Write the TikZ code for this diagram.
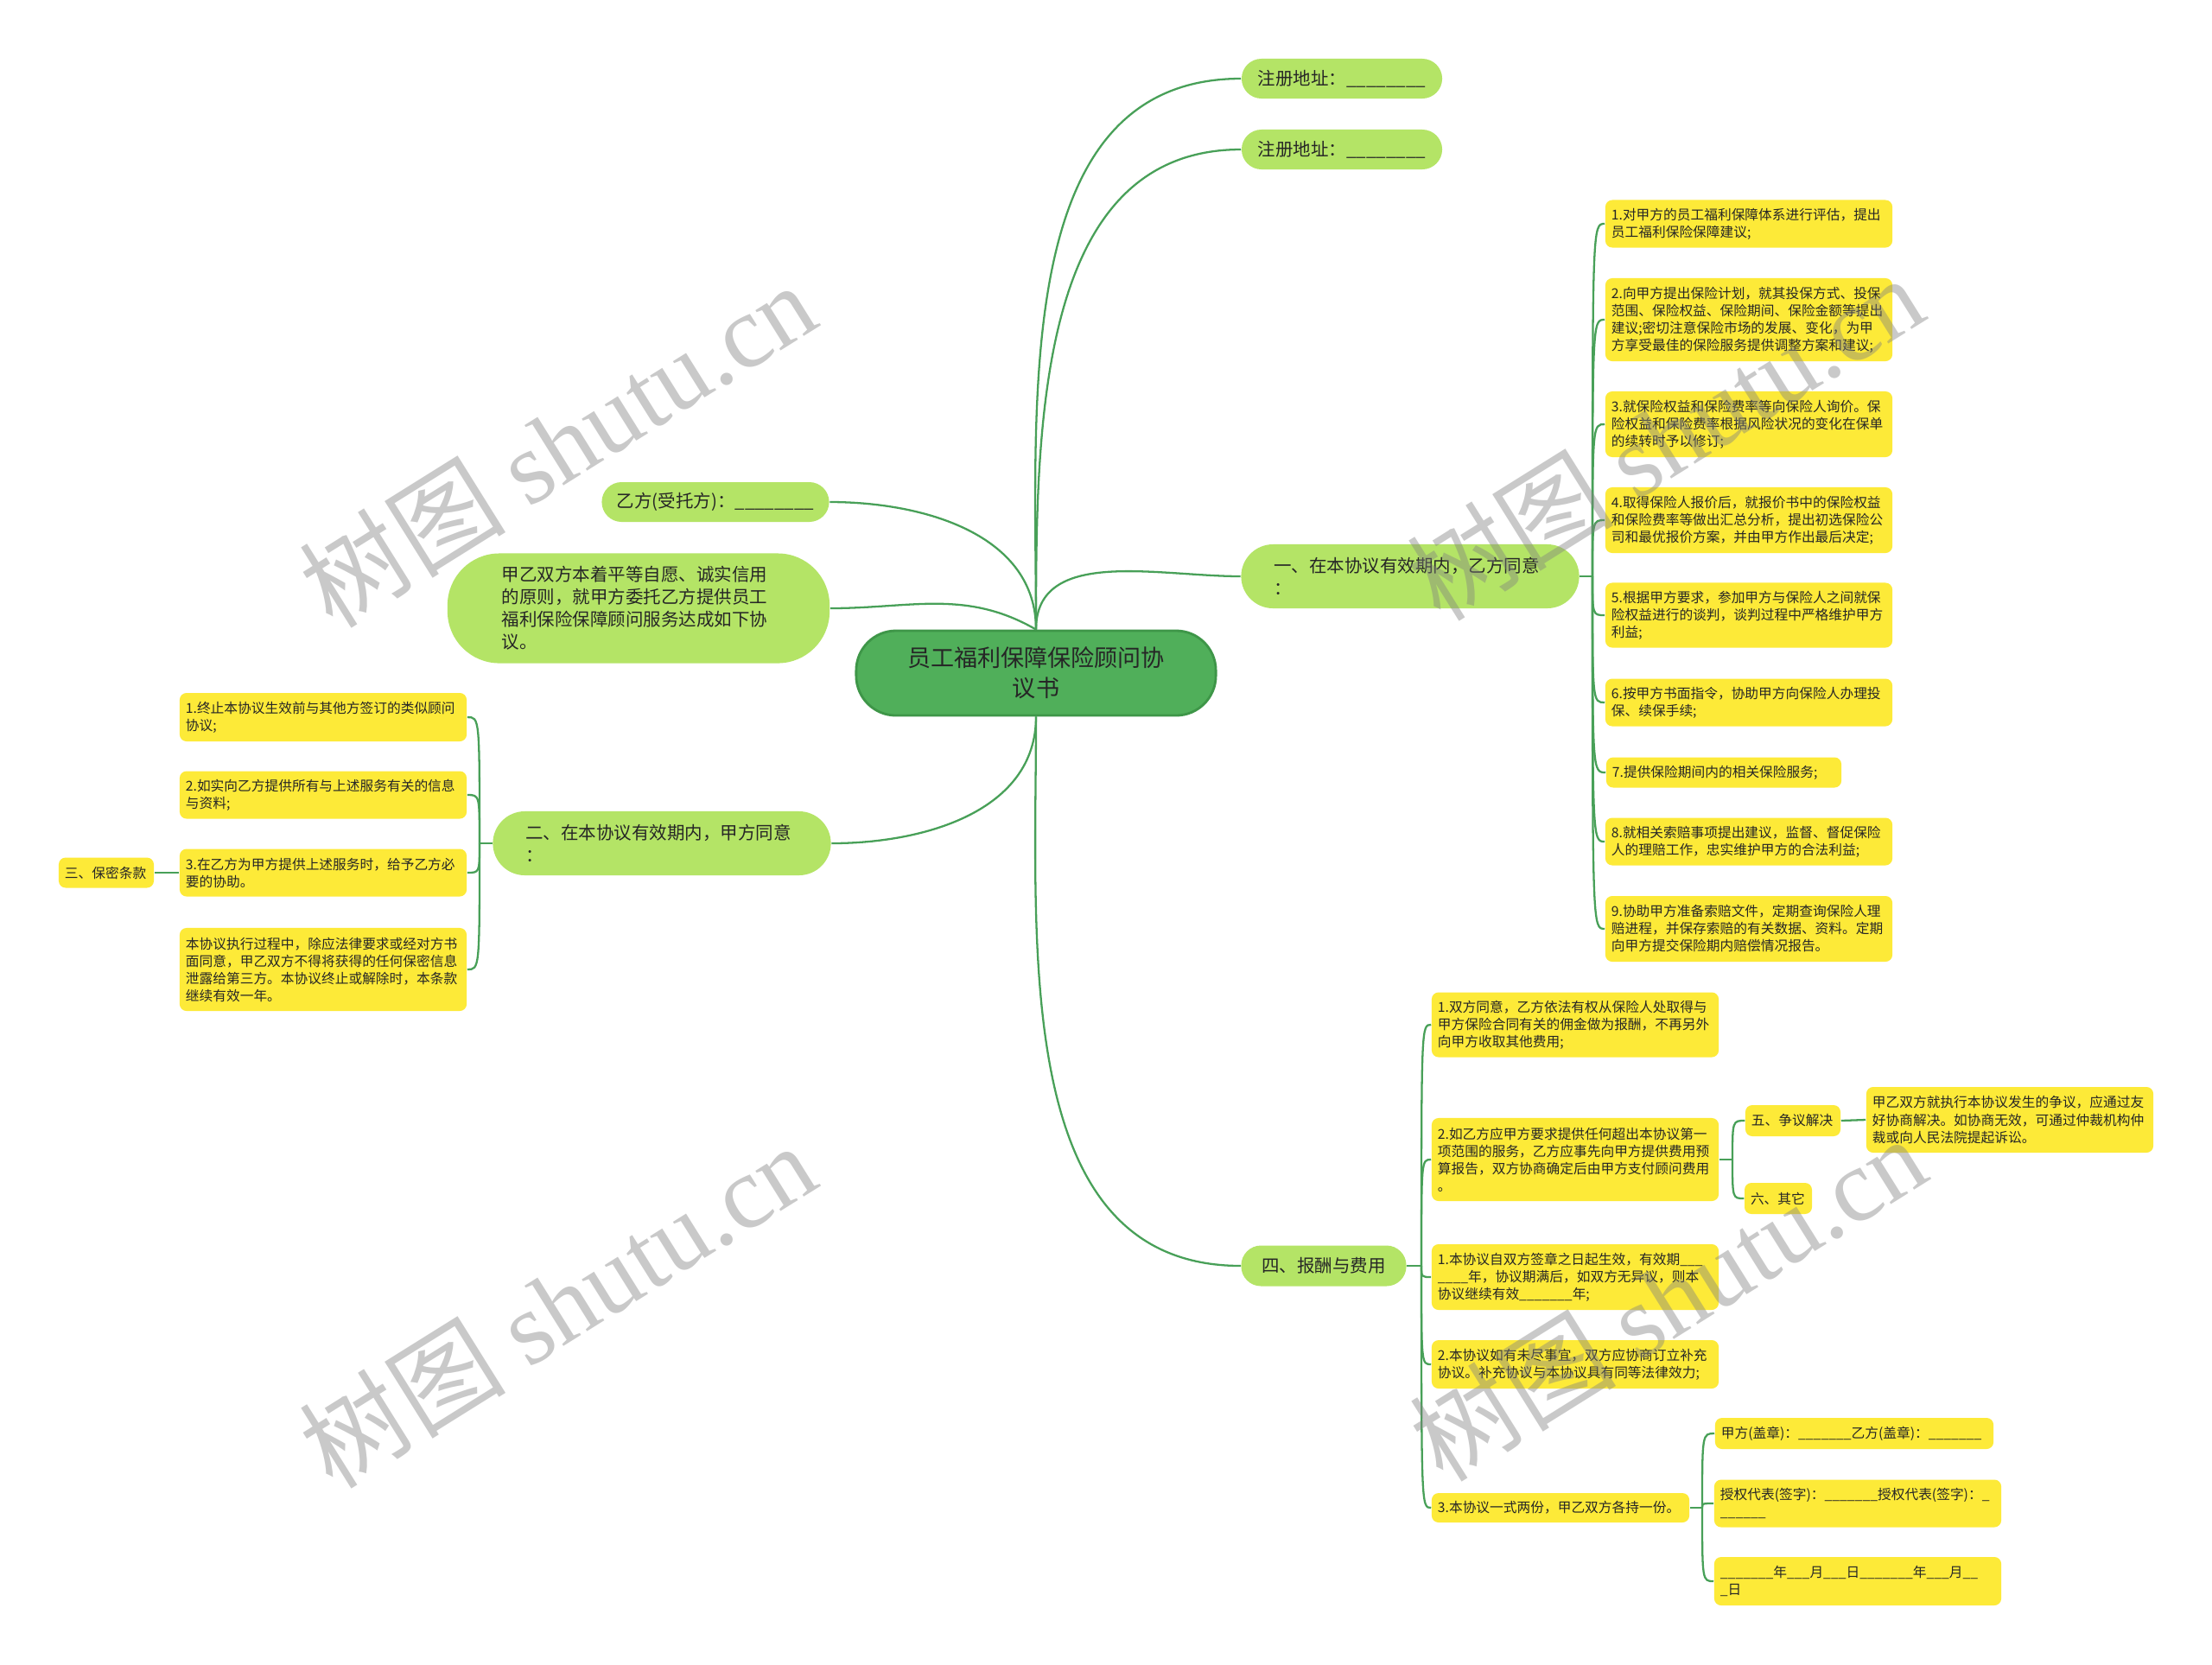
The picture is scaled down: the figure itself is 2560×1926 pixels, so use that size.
\documentclass[tikz,border=0pt]{standalone}
\usepackage{fontspec}
\setmainfont{Noto Sans CJK SC}
\newfontfamily\wmserif{Liberation Serif}
\usetikzlibrary{positioning}
\definecolor{hubfill}{RGB}{80,175,90}
\definecolor{hubline}{RGB}{62,150,72}
\definecolor{topicfill}{RGB}{180,228,102}
\definecolor{leaffill}{RGB}{253,234,56}
\definecolor{twiggreen}{RGB}{72,160,88}
\definecolor{inkdark}{RGB}{38,38,38}

\begin{document}
\begin{tikzpicture}[x=0.01cm,y=-0.01cm,
  hub/.style={draw=hubline,line width=0.8pt,fill=hubfill,rounded corners=0.46cm,
    minimum width=4.16cm,minimum height=0.98cm,align=center,inner sep=0pt,
    text=inkdark,font=\fontsize{7.7}{10}\selectfont},
  topic/.style={fill=topicfill,inner ysep=0pt,text=inkdark,
    font=\fontsize{5.83}{7.4}\selectfont},
  pill/.style={topic,rounded corners=0.23cm,minimum height=0.46cm},
  leaf/.style={fill=leaffill,rounded corners=0.08cm,inner xsep=0.07cm,inner ysep=0pt,
    align=left,text=inkdark,font=\fontsize{4.47}{5.69}\selectfont},
  wideleaf/.style={leaf,text width=3.18cm},
  twig/.style={draw=twiggreen,line width=0.65pt},
  wmark/.style={rotate=32,text=gray,opacity=0.42,font=\fontsize{34}{34}\selectfont}
]
\fill[white] (0,0) rectangle (2560,1926);
\useasboundingbox (0,0) rectangle (2560,1926);

\node[hub] (hub) at (1199,779) {员工福利保障保险顾问协\\议书};

\node[pill,minimum width=2.32cm] (addr1) at (1553,91) {注册地址：\_\_\_\_\_\_\_\_};
\node[pill,minimum width=2.32cm] (addr2) at (1553,173) {注册地址：\_\_\_\_\_\_\_\_};
\node[pill,minimum width=2.63cm] (yifang) at (828,581) {乙方(受托方)：\_\_\_\_\_\_\_\_};
\node[topic,rounded corners=0.6cm,minimum height=1.27cm,text width=3.16cm,
  inner xsep=0.63cm,align=left] (preamble) at (739,704)
  {甲乙双方本着平等自愿、诚实信用\\的原则，就甲方委托乙方提供员工\\福利保险保障顾问服务达成如下协\\议。};
\node[topic,rounded corners=0.37cm,minimum height=0.74cm,text width=3.15cm,
  inner xsep=0.38cm,align=left] (part1) at (1632,667) {一、在本协议有效期内，乙方同意\\：};
\node[topic,rounded corners=0.37cm,minimum height=0.74cm,text width=3.15cm,
  inner xsep=0.38cm,align=left] (part2) at (766,976) {二、在本协议有效期内，甲方同意\\：};
\node[pill,minimum width=1.91cm,minimum height=0.47cm] (part4) at (1532,1465) {四、报酬与费用};

% 一
\node[wideleaf,minimum height=0.55cm] (a1) at (2024,259) {1.对甲方的员工福利保障体系进行评估，提出\\员工福利保险保障建议;};
\node[wideleaf,minimum height=0.96cm] (a2) at (2024,370) {2.向甲方提出保险计划，就其投保方式、投保\\范围、保险权益、保险期间、保险金额等提出\\建议;密切注意保险市场的发展、变化，为甲\\方享受最佳的保险服务提供调整方案和建议;};
\node[wideleaf,minimum height=0.76cm] (a3) at (2024,491) {3.就保险权益和保险费率等向保险人询价。保\\险权益和保险费率根据风险状况的变化在保单\\的续转时予以修订;};
\node[wideleaf,minimum height=0.76cm] (a4) at (2024,602) {4.取得保险人报价后，就报价书中的保险权益\\和保险费率等做出汇总分析，提出初选保险公\\司和最优报价方案，并由甲方作出最后决定;};
\node[wideleaf,minimum height=0.75cm] (a5) at (2024,712) {5.根据甲方要求，参加甲方与保险人之间就保\\险权益进行的谈判，谈判过程中严格维护甲方\\利益;};
\node[wideleaf,minimum height=0.55cm] (a6) at (2024,813) {6.按甲方书面指令，协助甲方向保险人办理投\\保、续保手续;};
\node[leaf,minimum height=0.35cm,text width=2.58cm] (a7) at (1995,894) {7.提供保险期间内的相关保险服务;};
\node[wideleaf,minimum height=0.55cm] (a8) at (2024,974) {8.就相关索赔事项提出建议，监督、督促保险\\人的理赔工作，忠实维护甲方的合法利益;};
\node[wideleaf,minimum height=0.76cm] (a9) at (2024,1075) {9.协助甲方准备索赔文件，定期查询保险人理\\赔进程，并保存索赔的有关数据、资料。定期\\向甲方提交保险期内赔偿情况报告。};

% 二
\node[wideleaf,minimum height=0.56cm] (c1) at (374,830) {1.终止本协议生效前与其他方签订的类似顾问\\协议;};
\node[wideleaf,minimum height=0.55cm] (c2) at (374,920) {2.如实向乙方提供所有与上述服务有关的信息\\与资料;};
\node[wideleaf,minimum height=0.55cm] (c3) at (374,1010) {3.在乙方为甲方提供上述服务时，给予乙方必\\要的协助。};
\node[wideleaf,minimum height=0.96cm] (c4) at (374,1122) {本协议执行过程中，除应法律要求或经对方书\\面同意，甲乙双方不得将获得的任何保密信息\\泄露给第三方。本协议终止或解除时，本条款\\继续有效一年。};
\node[leaf,minimum height=0.35cm,text width=0.96cm] (san) at (123,1010) {三、保密条款};

% 四
\node[wideleaf,minimum height=0.75cm] (b1) at (1823,1186) {1.双方同意，乙方依法有权从保险人处取得与\\甲方保险合同有关的佣金做为报酬，不再另外\\向甲方收取其他费用;};
\node[wideleaf,minimum height=0.96cm] (b2) at (1823,1342) {2.如乙方应甲方要求提供任何超出本协议第一\\项范围的服务，乙方应事先向甲方提供费用预\\算报告，双方协商确定后由甲方支付顾问费用\\。};
\node[wideleaf,minimum height=0.76cm] (b3) at (1823,1478) {1.本协议自双方签章之日起生效，有效期\_\_\_\\\_\_\_\_年，协议期满后，如双方无异议，则本\\协议继续有效\_\_\_\_\_\_\_年;};
\node[wideleaf,minimum height=0.56cm] (b4) at (1823,1579) {2.本协议如有未尽事宜，双方应协商订立补充\\协议。补充协议与本协议具有同等法律效力;};
\node[leaf,minimum height=0.34cm,text width=2.84cm] (b5) at (1806,1745) {3.本协议一式两份，甲乙双方各持一份。};
\node[leaf,minimum height=0.36cm,text width=0.96cm] (five) at (2075,1297) {五、争议解决};
\node[leaf,minimum height=0.36cm,text width=0.64cm] (six) at (2058,1387) {六、其它};
\node[wideleaf,minimum height=0.76cm] (dispute) at (2326,1296) {甲乙双方就执行本协议发生的争议，应通过友\\好协商解决。如协商无效，可通过仲裁机构仲\\裁或向人民法院提起诉讼。};
\node[leaf,minimum height=0.36cm,text width=3.08cm] (s1) at (2146,1659) {甲方(盖章)：\_\_\_\_\_\_\_乙方(盖章)：\_\_\_\_\_\_\_};
\node[wideleaf,minimum height=0.55cm] (s2) at (2150,1740) {授权代表(签字)：\_\_\_\_\_\_\_授权代表(签字)：\_\\\_\_\_\_\_\_};
\node[wideleaf,minimum height=0.56cm] (s3) at (2150,1830) {\_\_\_\_\_\_\_年\_\_\_月\_\_\_日\_\_\_\_\_\_\_年\_\_\_月\_\_\\\_日};

\coordinate (j1) at (1843,667);
\coordinate (j2) at (555,976);
\coordinate (j4) at (1645,1465);
\coordinate (j5) at (2005,1342);
\coordinate (j6) at (1970,1745);

\draw[twig] (hub.north) to[out=90,in=180] (addr1.west);
\draw[twig] (hub.north) to[out=90,in=180] (addr2.west);
\draw[twig] (hub.north) to[out=90,in=180] (part1.west);
\draw[twig] (hub.north) to[out=90,in=0] (yifang.east);
\draw[twig] (hub.north) to[out=150,in=0] (preamble.east);
\draw[twig] (hub.south) to[out=-90,in=0] (part2.east);
\draw[twig] (hub.south) to[out=-90,in=180] (part4.west);

\draw[twig] (part1.east) -- (j1);
\foreach \i in {1,...,9}
  \draw[twig] (j1) .. controls (j1 |- a\i.west) .. (a\i.west);
\draw[twig] (part2.west) -- (j2);
\foreach \i in {1,...,4}
  \draw[twig] (j2) .. controls (j2 |- c\i.east) .. (c\i.east);
\draw[twig] (c3.west) -- (san.east);
\draw[twig] (part4.east) -- (j4);
\foreach \i in {1,...,5}
  \draw[twig] (j4) .. controls (j4 |- b\i.west) .. (b\i.west);
\draw[twig] (b2.east) -- (j5);
\draw[twig] (j5) .. controls (j5 |- five.west) .. (five.west);
\draw[twig] (j5) .. controls (j5 |- six.west) .. (six.west);
\draw[twig] (five.east) -- (dispute.west);
\draw[twig] (b5.east) -- (j6);
\foreach \i in {1,...,3}
  \draw[twig] (j6) .. controls (j6 |- s\i.west) .. (s\i.west);

\foreach \p in {(645,514),(645,1510),(1927,506),(1930,1502)}
  \node[wmark] at \p {树图 {\wmserif shutu.cn}};
\end{tikzpicture}
\end{document}
